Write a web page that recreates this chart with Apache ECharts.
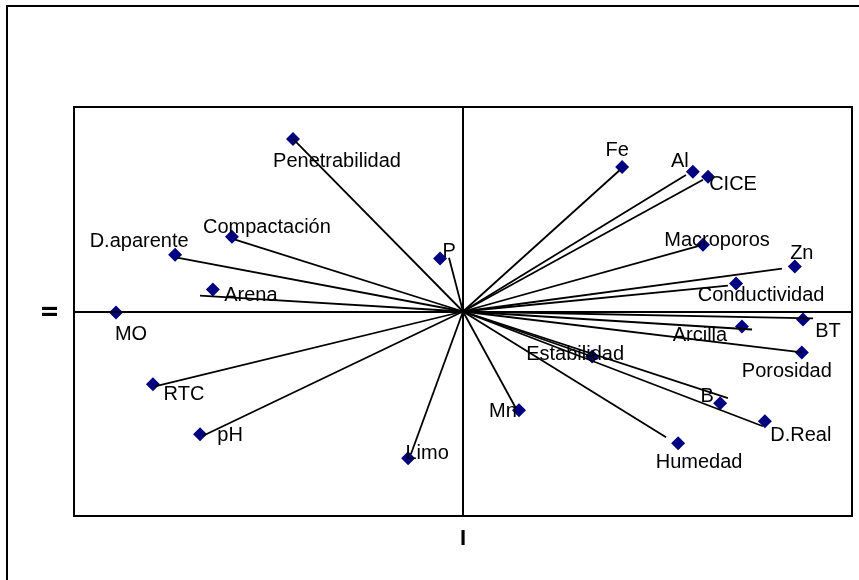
<!DOCTYPE html>
<html>
<head>
<meta charset="utf-8">
<script src="https://cdn.jsdelivr.net/npm/echarts@6/dist/echarts.min.js"></script>
<style>html,body{margin:0;padding:0;background:#fff}#c{width:859px;height:580px}</style>
</head>
<body>
<div id="c"></div>
<script>
// Variable names
var names = ["Penetrabilidad","Compactación","D.aparente","Arena","MO","P","RTC","pH","Limo",
  "Fe","Al","CICE","Macroporos","Zn","Conductividad","BT","Arcilla","Porosidad","Estabilidad",
  "B","D.Real","Humedad","Mn"];
// Marker coordinates (component I, component II)
var pointX = [-0.437,-0.594,-0.740,-0.643,-0.892,-0.059,-0.797,-0.676,-0.141,
  0.409,0.591,0.630,0.617,0.853,0.702,0.874,0.717,0.871,0.332,
  0.661,0.776,0.553,0.144];
var pointY = [0.844,0.366,0.278,0.107,-0.005,0.259,-0.356,-0.600,-0.717,
  0.707,0.683,0.659,0.327,0.220,0.137,-0.039,-0.073,-0.200,-0.220,
  -0.449,-0.537,-0.644,-0.483];
// Vector (line) end coordinates; null = no vector
var vecX = [-0.437,-0.586,-0.735,-0.676,null,-0.036,-0.792,-0.671,-0.134,
  0.404,0.573,0.617,0.609,0.820,0.681,0.900,0.743,0.871,0.332,
  0.681,0.771,0.522,0.136];
var vecY = [0.844,0.351,0.263,0.078,null,0.263,-0.366,-0.610,-0.698,
  0.693,0.668,0.644,0.322,0.210,0.127,-0.034,-0.088,-0.200,-0.220,
  -0.424,-0.561,-0.615,-0.473];
// Axis titles
var xTitle = "I";
var yTitle = "II";

// label offsets (pixels, relative to marker) - styling only
var labelOffsets = [[44,23],[35,-9],[-36,-13],[38,6],[15,22],[9,-7],[31,10],[30,1],[19,-5],
  [-5,-16],[-13,-10],[25,8],[14,-4],[7,-13],[25,12],[25,12],[-42,9],[-15,19],[-17,-2],
  [-13,-7],[36,14],[21,19],[-16,1]];

var scatterData = names.map(function(n,i){
  return {value:[pointX[i],pointY[i]], name:n,
    label:{offset:labelOffsets[i]}};
});
var lineData = [];
names.forEach(function(n,i){
  if (vecX[i] !== null) lineData.push({coords:[[0,0],[vecX[i],vecY[i]]]});
});

var chart = echarts.init(document.getElementById('c'), null, {renderer:'canvas'});
chart.setOption({
  animation:false,
  textStyle:{fontFamily:'Liberation Sans, Arial, sans-serif'},
  graphic:[{type:'rect', shape:{x:7,y:6,width:1000,height:1000},
    style:{fill:'none', stroke:'#000', lineWidth:2}, silent:true}],
  grid:{left:74,right:7,top:107,bottom:64,show:true,borderColor:'#000',borderWidth:2,backgroundColor:'transparent'},
  xAxis:{type:'value',min:-1,max:1,axisLine:{show:false,onZero:false},axisTick:{show:false},
    axisLabel:{show:false},splitLine:{show:false},
    name:xTitle,nameLocation:'middle',nameGap:12,
    nameTextStyle:{fontSize:22,fontWeight:'bold',color:'#000',fontFamily:'Liberation Sans, Arial, sans-serif'}},
  yAxis:{type:'value',min:-1,max:1,axisLine:{show:false,onZero:false},axisTick:{show:false},
    axisLabel:{show:false},splitLine:{show:false},
    name:yTitle,nameLocation:'middle',nameGap:12,nameRotate:90,
    nameTextStyle:{fontSize:22,fontWeight:'bold',color:'#000',fontFamily:'Liberation Sans, Arial, sans-serif'}},
  series:[
    {type:'scatter', z:2, symbol:'diamond', symbolSize:14,
     itemStyle:{color:'#000080',opacity:1},
     emphasis:{disabled:true},
     label:{show:true, position:'inside', formatter:'{b}', color:'#000', fontSize:20,
       fontFamily:'Liberation Sans, Arial, sans-serif'},
     data:scatterData,
     markLine:{silent:true, symbol:'none', label:{show:false},
       lineStyle:{color:'#000',width:2,type:'solid',opacity:1},
       data:[{xAxis:0},{yAxis:0}]}
    },
    {type:'lines', coordinateSystem:'cartesian2d', z:3, silent:true,
     lineStyle:{color:'#000',width:1.8,opacity:1,curveness:0},
     data:lineData}
  ]
});
</script>
</body>
</html>
